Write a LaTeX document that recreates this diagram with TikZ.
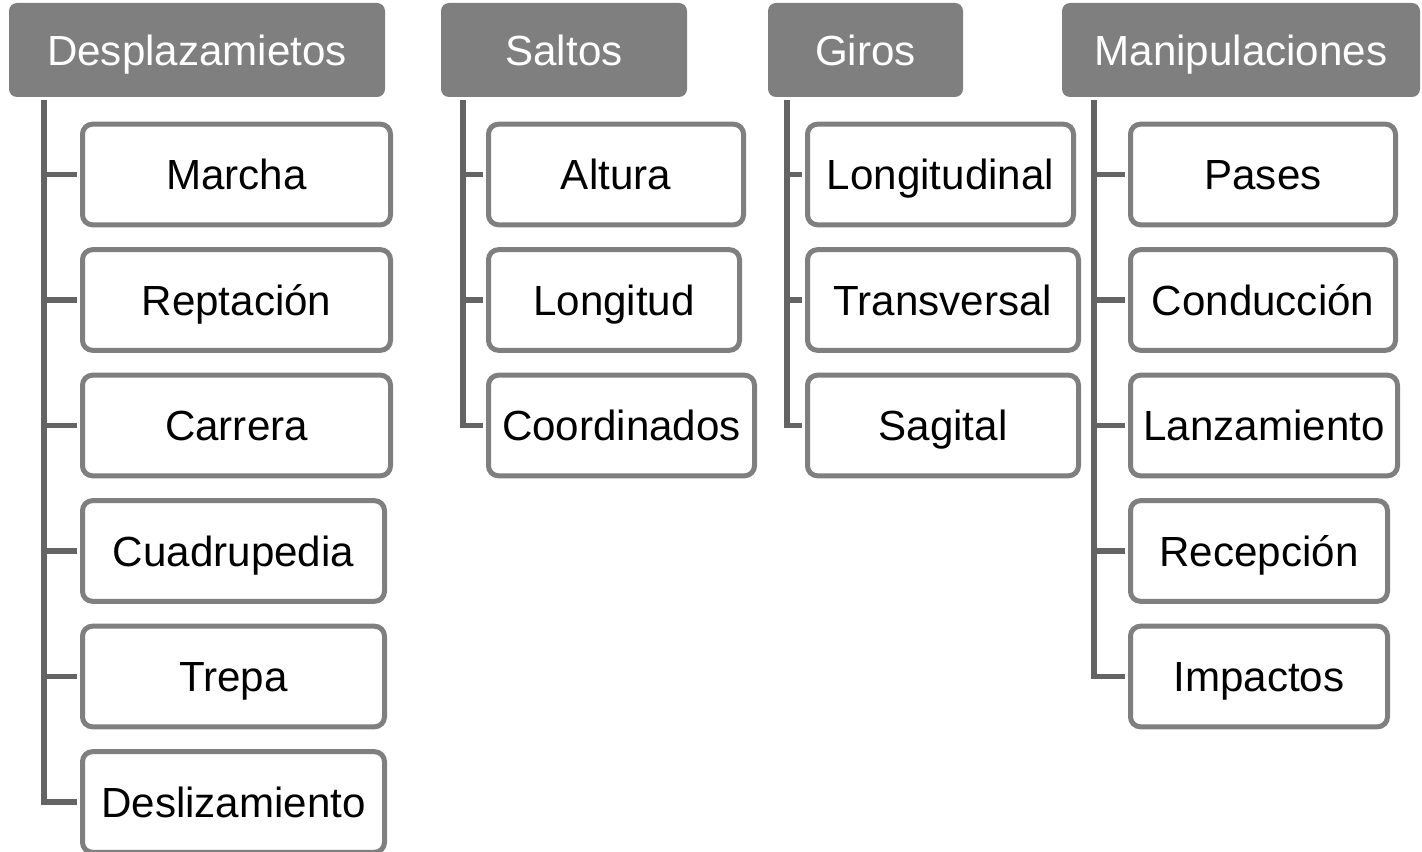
\documentclass[tikz,border=0pt]{standalone}
\usepackage{fontspec}
\setmainfont{Liberation Sans}
\usepackage{tikz}
\definecolor{boxgray}{HTML}{7F7F7F}
\definecolor{trunkgray}{HTML}{646464}
\tikzstyle{head}=[rectangle,rounded corners=6pt,fill=boxgray,text=white,inner sep=0pt,minimum height=70.5pt,text height=22.6pt,text depth=0pt,font=\fontsize{31.6}{38}\selectfont]
\tikzstyle{item}=[rectangle,rounded corners=7.5pt,draw=boxgray,line width=3.75pt,fill=white,inner sep=0pt,minimum height=75.5pt,text height=22.6pt,text depth=0pt,font=\fontsize{31.6}{38}\selectfont]
\tikzstyle{trunk}=[draw=trunkgray,line width=3.9pt,shorten >=1.9pt]

\begin{document}
\begin{tikzpicture}[x=0.75pt,y=-0.75pt]
  \useasboundingbox (0,0) rectangle (1422,852);
  % headers
  \node[head,minimum width=282pt]   (DES) at (197,50)    {Desplazamietos};
  \node[head,minimum width=184.5pt] (SAL) at (564,50)    {Saltos};
  \node[head,minimum width=146.25pt] (GIR) at (865.5,50) {Giros};
  \node[head,minimum width=268.5pt] (MAN) at (1241,50)   {Manipulaciones};
  % desplazamientos
  \node[item,minimum width=231pt]   (MAR)  at (236.5,174.5) {Marcha};
  \node[item,minimum width=231pt]   (REP)  at (236.5,300)   {Reptación};
  \node[item,minimum width=231pt]   (CAR)  at (236.5,425.5) {Carrera};
  \node[item,minimum width=226.5pt] (CUA)  at (233.5,551)   {Cuadrupedia};
  \node[item,minimum width=226.5pt] (TRE)  at (233.5,676.5) {Trepa};
  \node[item,minimum width=226.5pt] (DESL) at (233.5,802)   {Deslizamiento};
  % saltos
  \node[item,minimum width=191.25pt] (ALT) at (616,174.5)   {Altura};
  \node[item,minimum width=188.25pt] (LON) at (614,300)     {Longitud};
  \node[item,minimum width=199.5pt]  (COO) at (621.5,425.5) {Coordinados};
  % giros
  \node[item,minimum width=199.5pt]  (LGT) at (940.5,174.5) {Longitudinal};
  \node[item,minimum width=203.25pt] (TRA) at (943,300)     {Transversal};
  \node[item,minimum width=203.25pt] (SAG) at (943,425.5)   {Sagital};
  % manipulaciones
  \node[item,minimum width=198.75pt] (PAS) at (1263,174.5)  {Pases};
  \node[item,minimum width=198.75pt] (CON) at (1263,300)    {Conducción};
  \node[item,minimum width=200.25pt] (LAN) at (1264,425.5)  {Lanzamiento};
  \node[item,minimum width=192.75pt] (REC) at (1259,551)    {Recepción};
  \node[item,minimum width=192.75pt] (IMP) at (1259,676.5)  {Impactos};
  % trunks
  \coordinate (DEStop) at (44,100);
  \coordinate (SALtop) at (463,100);
  \coordinate (GIRtop) at (787,100);
  \coordinate (MANtop) at (1094,100);
  \draw[trunk] (DEStop) |- (DESL.west);
  \draw[trunk] (DEStop |- MAR.west) -- (MAR.west);
  \draw[trunk] (DEStop |- REP.west) -- (REP.west);
  \draw[trunk] (DEStop |- CAR.west) -- (CAR.west);
  \draw[trunk] (DEStop |- CUA.west) -- (CUA.west);
  \draw[trunk] (DEStop |- TRE.west) -- (TRE.west);
  \draw[trunk] (SALtop) |- (COO.west);
  \draw[trunk] (SALtop |- ALT.west) -- (ALT.west);
  \draw[trunk] (SALtop |- LON.west) -- (LON.west);
  \draw[trunk] (GIRtop) |- (SAG.west);
  \draw[trunk] (GIRtop |- LGT.west) -- (LGT.west);
  \draw[trunk] (GIRtop |- TRA.west) -- (TRA.west);
  \draw[trunk] (MANtop) |- (IMP.west);
  \draw[trunk] (MANtop |- PAS.west) -- (PAS.west);
  \draw[trunk] (MANtop |- CON.west) -- (CON.west);
  \draw[trunk] (MANtop |- LAN.west) -- (LAN.west);
  \draw[trunk] (MANtop |- REC.west) -- (REC.west);
\end{tikzpicture}
\end{document}
